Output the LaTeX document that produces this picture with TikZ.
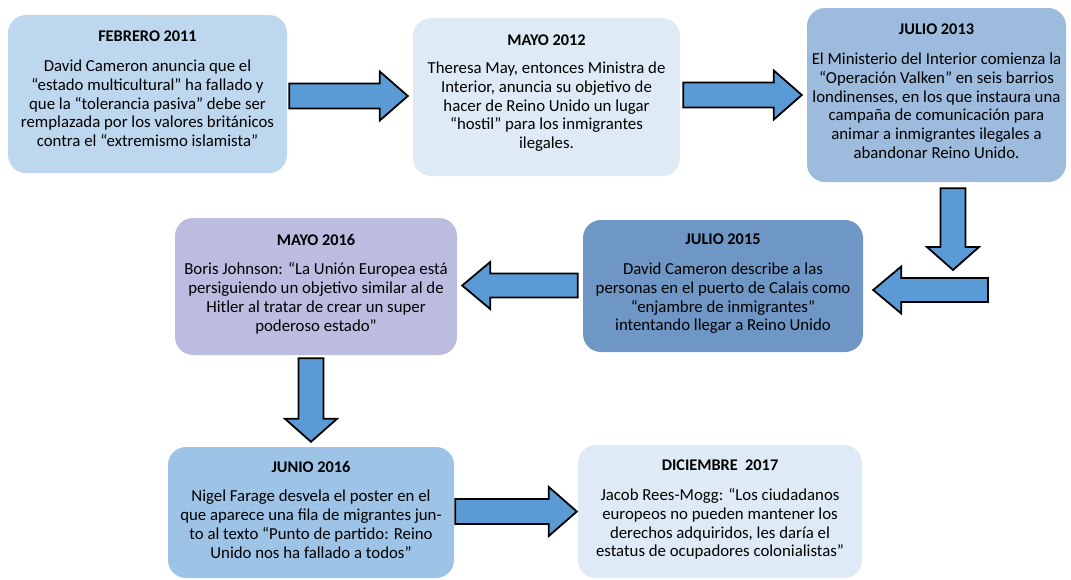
\documentclass[tikz,border=0pt]{standalone}
\usepackage{fontspec}
\setmainfont{Carlito}
\usetikzlibrary{positioning,calc}

\definecolor{cFeb}{HTML}{BDD7EE}
\definecolor{cClaro}{HTML}{DEEBF7}
\definecolor{cJulA}{HTML}{9DBBDD}
\definecolor{cJulB}{HTML}{6E97C6}
\definecolor{cLila}{HTML}{BCBCE0}
\definecolor{cJun}{HTML}{9DC3E6}
\definecolor{cFlecha}{HTML}{5B9BD5}

\newcommand{\titulo}[1]{{\fontsize{16.3}{18.8}\selectfont\bfseries #1}}

\tikzset{
  caja/.style={rounded corners=18pt, inner sep=0pt},
  texto/.style={align=center, inner sep=0pt, font=\fontsize{16.8}{18.8}\selectfont},
  flecha/.style={draw=black, line width=1.8pt, fill=cFlecha, line join=miter}
}

% flechas de bloque: cola, punta
\newcommand{\flechader}[2]{\draw[flecha] let \p1=(#1), \p2=(#2) in
  (\x1,\y2+12.5pt) -- (\x2-28pt,\y2+12.5pt) -- (\x2-28pt,\y2+24.5pt) -- (\x2,\y2)
  -- (\x2-28pt,\y2-24.5pt) -- (\x2-28pt,\y2-12.5pt) -- (\x1,\y2-12.5pt) -- cycle;}
\newcommand{\flechaizq}[2]{\draw[flecha] let \p1=(#1), \p2=(#2) in
  (\x1,\y2+12pt) -- (\x2+28pt,\y2+12pt) -- (\x2+28pt,\y2+23.5pt) -- (\x2,\y2)
  -- (\x2+28pt,\y2-23.5pt) -- (\x2+28pt,\y2-12pt) -- (\x1,\y2-12pt) -- cycle;}
\newcommand{\flechaabajo}[2]{\draw[flecha] let \p1=(#1), \p2=(#2) in
  (\x2-12.5pt,\y1) -- (\x2-12.5pt,\y2+23pt) -- (\x2-26pt,\y2+23pt) -- (\x2,\y2)
  -- (\x2+26pt,\y2+23pt) -- (\x2+12.5pt,\y2+23pt) -- (\x2+12.5pt,\y1) -- cycle;}

\begin{document}
\begin{tikzpicture}[x=1pt, y=-1pt]
    \useasboundingbox (0,0) rectangle (1071,579);

    % Febrero 2011
    \node[caja, fill=cFeb, minimum width=279pt, minimum height=158pt] (feb11) at (147.5,94) {};
    \node[texto, below=16pt of feb11.north] (feb11t) {\titulo{FEBRERO 2011}\\[11pt]
        David Cameron anuncia que el\\
        “estado multicultural” ha fallado y\\
        que la “tolerancia pasiva” debe ser\\
        remplazada por los valores británicos\\
        contra el “extremismo islamista”};

    % Mayo 2012
    \node[caja, fill=cClaro, minimum width=267pt, minimum height=158pt] (may12) at (546.5,97) {};
    \node[texto, below=17pt of may12.north] (may12t) {\titulo{MAYO 2012}\\[9pt]
        Theresa May, entonces Ministra de\\
        Interior, anuncia su objetivo de\\
        hacer de Reino Unido un lugar\\
        “hostil” para los inmigrantes\\
        ilegales.};

    % Julio 2013
    \node[caja, fill=cJulA, minimum width=259pt, minimum height=174pt] (jul13) at (936.5,95) {};
    \node[texto, below=16pt of jul13.north] (jul13t) {\titulo{JULIO 2013}\\[11pt]
        El Ministerio del Interior comienza la\\
        “Operación Valken” en seis barrios\\
        londinenses, en los que instaura una\\
        campaña de comunicación para\\
        animar a inmigrantes ilegales a\\
        abandonar Reino Unido.};

    % Julio 2015
    \node[caja, fill=cJulB, minimum width=280pt, minimum height=132pt] (jul15) at (723,286) {};
    \node[texto, below=14pt of jul15.north] (jul15t) {\titulo{JULIO 2015}\\[11pt]
        David Cameron describe a las\\
        personas en el puerto de Calais como\\
        “enjambre de inmigrantes”\\
        intentando llegar a Reino Unido};

    % Mayo 2016
    \node[caja, fill=cLila, minimum width=282pt, minimum height=137pt] (may16) at (316,286.5) {};
    \node[texto, below=16pt of may16.north] (may16t) {\titulo{MAYO 2016}\\[11pt]
        Boris Johnson: “La Unión Europea está\\
        persiguiendo un objetivo similar al de\\
        Hitler al tratar de crear un super\\
        poderoso estado”};

    % Junio 2016
    \node[caja, fill=cJun, minimum width=286pt, minimum height=131pt] (jun16) at (311,512.5) {};
    \node[texto, below=14pt of jun16.north] (jun16t) {\titulo{JUNIO 2016}\\[11pt]
        Nigel Farage desvela el poster en el\\
        que aparece una fila de migrantes jun-\\
        to al texto “Punto de partido: Reino\\
        Unido nos ha fallado a todos”};

    % Diciembre 2017
    \node[caja, fill=cClaro, minimum width=284pt, minimum height=133pt] (dic17) at (720,511.5) {};
    \node[texto, below=15pt of dic17.north] (dic17t) {\titulo{DICIEMBRE\ \ 2017}\\[11pt]
        Jacob Rees-Mogg: “Los ciudadanos\\
        europeos no pueden mantener los\\
        derechos adquiridos, les daría el\\
        estatus de ocupadores colonialistas”};

    % Flechas
    \coordinate (a3fin) at (953,270);
    \coordinate (a4ini) at (988,290);
    \flechader{[xshift=2pt]feb11.east}{[xshift=-5pt,yshift=1pt]may12.west}
    \flechader{[xshift=3pt]may12.east}{[xshift=-5pt]jul13.west}
    \flechaabajo{[yshift=-6pt]jul13.south}{a3fin}
    \flechaizq{a4ini}{[xshift=10pt,yshift=-4pt]jul15.east}
    \flechaizq{[xshift=-5pt]jul15.west}{[xshift=5pt,yshift=1pt]may16.east}
    \flechaabajo{[yshift=-3pt]may16.south}{[yshift=5pt]jun16.north}
    \flechader{[xshift=1pt]jun16.east}{[xshift=-1pt]dic17.west}
\end{tikzpicture}
\end{document}
